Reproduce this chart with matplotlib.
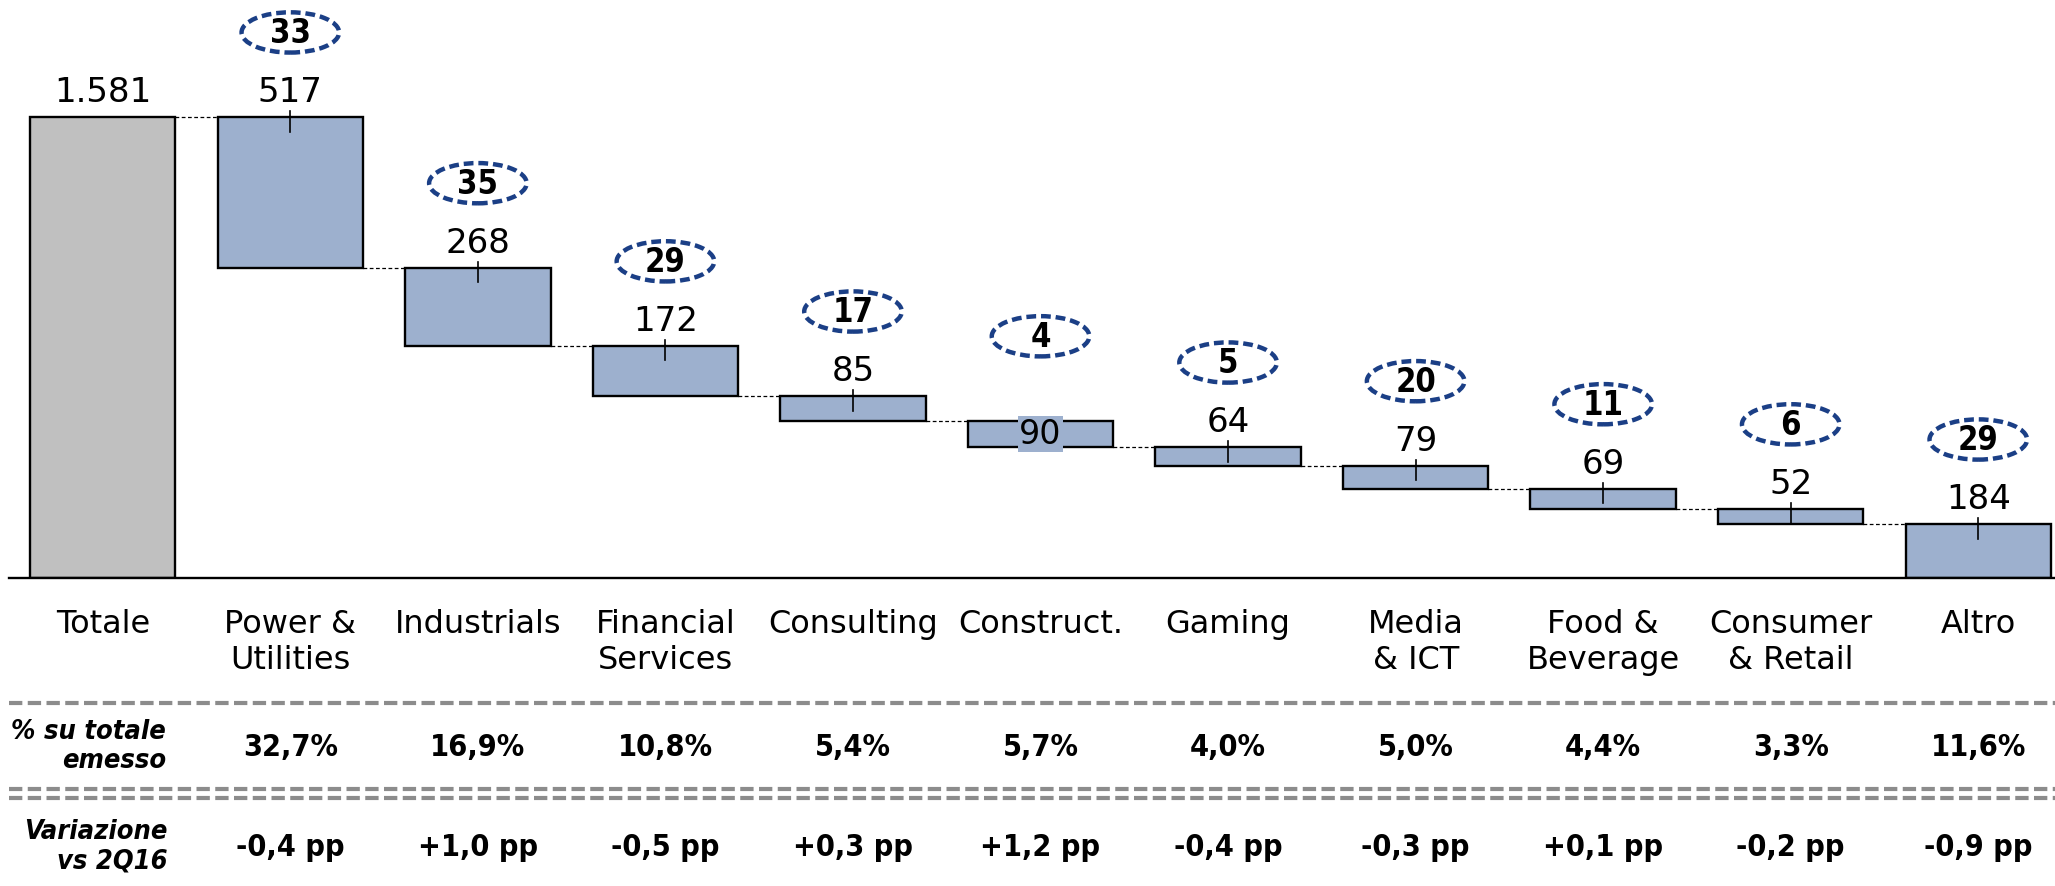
"""Waterfall of emissions by sector with share and change rows."""

import matplotlib

matplotlib.use("Agg")

import matplotlib.pyplot as plt
import numpy as np
from matplotlib import font_manager as fm
from matplotlib.patches import Ellipse
from matplotlib.transforms import blended_transform_factory

categories = [
    "Totale", "Power &\nUtilities", "Industrials", "Financial\nServices", "Consulting",
    "Construct.", "Gaming", "Media\n& ICT", "Food &\nBeverage", "Consumer\n& Retail", "Altro",
]
total = 1581
sector_values = [517, 268, 172, 85, 90, 64, 79, 69, 52, 184]
circled = [33, 35, 29, 17, 4, 5, 20, 11, 6, 29]
share_labels = ["32,7%", "16,9%", "10,8%", "5,4%", "5,7%", "4,0%", "5,0%", "4,4%", "3,3%", "11,6%"]
delta_labels = ["-0,4 pp", "+1,0 pp", "-0,5 pp", "+0,3 pp", "+1,2 pp", "-0,4 pp",
                "-0,3 pp", "+0,1 pp", "-0,2 pp", "-0,9 pp"]

BAR_BLUE = "#9DB0CE"
TOTAL_GREY = "#C0C0C0"
NAVY = "#1B3F86"
SEP_GREY = "#8C8C8C"

# pick a narrow bold face if one is around
entries = fm.fontManager.ttflist
names = {f.name for f in entries}
if "Liberation Sans Narrow" in names:
    narrow = dict(family="Liberation Sans Narrow")
    nscale = 1.1
elif any(f.name == "DejaVu Sans" and "ondensed" in str(f.stretch) for f in entries):
    narrow = dict(family="DejaVu Sans", fontstretch="condensed")
    nscale = 1.0
else:
    narrow = dict(family="Liberation Sans")
    nscale = 0.95

W, H = 2055, 887
fig = plt.figure(figsize=(W / 100, H / 100), dpi=100)
base_px = 579
ax = fig.add_axes([9 / W, (H - base_px) / H, (W - 9) / W, base_px / H])

x = np.arange(len(categories))
width = 0.775
tops = np.concatenate([[total], total - np.cumsum([0] + sector_values[:-1])])
heights = np.concatenate([[total], sector_values])
bottoms = tops - heights
colors = [TOTAL_GREY] + [BAR_BLUE] * len(sector_values)

ax.bar(x, heights, width, bottom=bottoms, color=colors, edgecolor="black", linewidth=1.7, zorder=2)

# dashed connectors between bars
for i in range(len(x) - 1):
    ax.plot([x[i] + width / 2, x[i + 1] - width / 2], [tops[i + 1], tops[i + 1]],
            color="black", linestyle=(0, (3, 2)), linewidth=0.9, zorder=1)

def fmt(v):
    return f"{v:,}".replace(",", ".")

for i in range(len(x)):
    label = fmt(int(heights[i]))
    if i == 5:
        # label doesn't fit above: put it inside the bar
        ax.text(x[i], (tops[i] + bottoms[i]) / 2, label, ha="center", va="center", fontsize=24,
                zorder=4, bbox=dict(facecolor=BAR_BLUE, edgecolor="none", pad=1))
        continue
    ax.text(x[i], tops[i] + 30, label, ha="center", va="bottom", fontsize=24.5, zorder=4)
    if i > 0:
        ax.plot([x[i], x[i]], [tops[i] + 20, tops[i] - 50], color="black", linewidth=1.2, zorder=3)

# circled numbers above sector bars
for i, n in enumerate(circled, start=1):
    cy = tops[i] + 290
    ax.add_patch(Ellipse((x[i], cy), 0.52, 138, facecolor="white", edgecolor=NAVY,
                         linewidth=3.2, linestyle=(0, (2.2, 1.1)), zorder=5, clip_on=False))
    ax.text(x[i], cy, str(n), ha="center", va="center", fontsize=23.5 * nscale, fontweight="bold",
            zorder=6, **narrow)

ax.set_xlim(-0.5, -0.5 + (W - 9) / 187.55)
ax.set_ylim(0, total * base_px / 461)
for side in ["top", "left", "right"]:
    ax.spines[side].set_visible(False)
ax.spines["bottom"].set_linewidth(1.7)
ax.set_xticks([])
ax.set_yticks([])

trans = blended_transform_factory(ax.transData, fig.transFigure)
def fy(px):
    return 1 - px / H

for i, cat in enumerate(categories):
    ax.text(x[i], fy(609), cat, ha="center", va="top", ma="center", fontsize=23,
            linespacing=1.22, transform=trans)

for i, (s, d) in enumerate(zip(share_labels, delta_labels), start=1):
    ax.text(x[i], fy(748), s, ha="center", va="center", fontsize=22 * nscale, fontweight="bold",
            transform=trans, **narrow)
    ax.text(x[i], fy(848), d, ha="center", va="center", fontsize=22 * nscale, fontweight="bold",
            transform=trans, **narrow)

fig.text(166 / W, fy(747), "% su totale\nemesso", ha="right", va="center", ma="right",
         fontsize=19.5 * nscale, fontweight="bold", style="italic", linespacing=1.15, **narrow)
fig.text(168 / W, fy(847), "Variazione\nvs 2Q16", ha="right", va="center", ma="right",
         fontsize=19.5 * nscale, fontweight="bold", style="italic", linespacing=1.15, **narrow)

for py in [704, 790, 799]:
    fig.add_artist(plt.Line2D([9 / W, 1], [fy(py), fy(py)], color=SEP_GREY, linewidth=3,
                              linestyle=(0, (3.2, 1.3))))

fig.savefig("out.png", dpi=100)
